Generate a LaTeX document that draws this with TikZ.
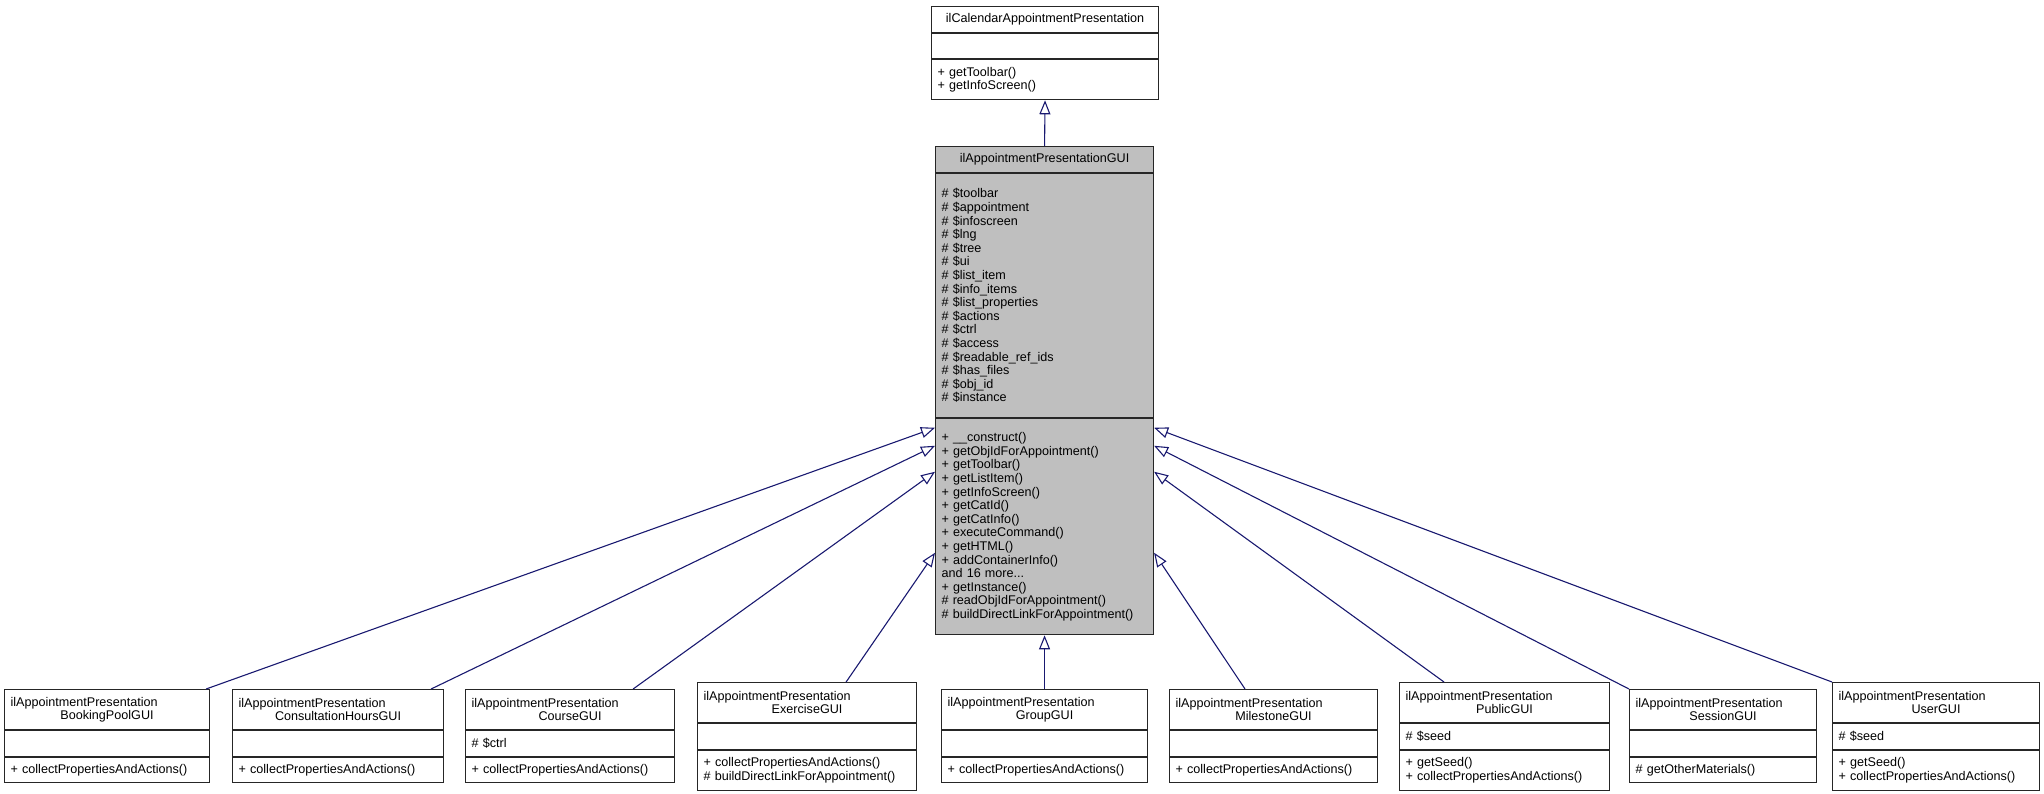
\documentclass[tikz,border=0pt]{standalone}
\usepackage{fontspec}
\setmainfont{Liberation Sans}
\usetikzlibrary{positioning,arrows.meta}
\definecolor{edgeBlue}{HTML}{191970}
\definecolor{focusGray}{HTML}{BFBFBF}
\newcommand{\clsfont}{\fontsize{12.6}{13.6}\selectfont}
\tikzset{
  clsPart/.style={rectangle,draw=black!85,fill=white,line width=1.1pt,inner xsep=6pt,inner ysep=0pt,
    font=\clsfont,align=left,minimum height=#1},
  clsHead/.style={clsPart=#1,align=center},
  inherit/.style={-{Triangle[open,length=14pt,width=11pt]},draw=edgeBlue,line width=1.1pt}
}

\begin{document}
\begin{tikzpicture}[x=1pt,y=-1pt]
    \useasboundingbox (0,0) rectangle (2044,793);

    % base class
    \node[clsHead=26pt, text width=215pt, anchor=north west] (cal) at (931,6) {ilCalendarAppointmentPresentation};
    \node[clsPart=25pt, text width=215pt, below=0pt of cal] (cala) {};
    \node[clsPart=40pt, text width=215pt, below=0pt of cala] (calm) {+ getToolbar()\\+ getInfoScreen()};

    % focus class
    \node[clsHead=26pt, text width=206pt, anchor=north west, fill=focusGray] (gui) at (935,146) {ilAppointmentPresentationGUI};
    \node[clsPart=244pt, text width=206pt, below=0pt of gui, fill=focusGray] (guia) {\# \$toolbar\\\# \$appointment\\\# \$infoscreen\\\# \$lng\\\# \$tree\\\# \$ui\\\# \$list\_item\\\# \$info\_items\\\# \$list\_properties\\\# \$actions\\\# \$ctrl\\\# \$access\\\# \$readable\_ref\_ids\\\# \$has\_files\\\# \$obj\_id\\\# \$instance};
    \node[clsPart=216pt, text width=206pt, below=0pt of guia, fill=focusGray] (guim) {+ \_\_construct()\\+ getObjIdForAppointment()\\+ getToolbar()\\+ getListItem()\\+ getInfoScreen()\\+ getCatId()\\+ getCatInfo()\\+ executeCommand()\\+ getHTML()\\+ addContainerInfo()\\and 16 more...\\+ getInstance()\\\# readObjIdForAppointment()\\\# buildDirectLinkForAppointment()};

    % derived classes
    \node[clsHead=40pt, text width=193pt, anchor=north west] (bp) at (4,689) {\makebox[\linewidth][l]{ilAppointmentPresentation}\\BookingPoolGUI};
    \node[clsPart=25.5pt, text width=193pt, below=0pt of bp] (bpa) {};
    \node[clsPart=25.5pt, text width=193pt, below=0pt of bpa] (bpm) {+ collectPropertiesAndActions()};

    \node[clsHead=40pt, text width=199pt, anchor=north west] (ch) at (232,689) {\makebox[\linewidth][l]{ilAppointmentPresentation}\\ConsultationHoursGUI};
    \node[clsPart=25.5pt, text width=199pt, below=0pt of ch] (cha) {};
    \node[clsPart=25.5pt, text width=199pt, below=0pt of cha] (chm) {+ collectPropertiesAndActions()};

    \node[clsHead=40pt, text width=197pt, anchor=north west] (crs) at (465,689) {\makebox[\linewidth][l]{ilAppointmentPresentation}\\CourseGUI};
    \node[clsPart=25.5pt, text width=197pt, below=0pt of crs] (crsa) {\# \$ctrl};
    \node[clsPart=25.5pt, text width=197pt, below=0pt of crsa] (crsm) {+ collectPropertiesAndActions()};

    \node[clsHead=40pt, text width=207pt, anchor=north west] (exc) at (697,682) {\makebox[\linewidth][l]{ilAppointmentPresentation}\\ExerciseGUI};
    \node[clsPart=25.5pt, text width=207pt, below=0pt of exc] (exca) {};
    \node[clsPart=40pt, text width=207pt, below=0pt of exca] (excm) {+ collectPropertiesAndActions()\\\# buildDirectLinkForAppointment()};

    \node[clsHead=40pt, text width=194pt, anchor=north west] (grp) at (941,689) {\makebox[\linewidth][l]{ilAppointmentPresentation}\\GroupGUI};
    \node[clsPart=25.5pt, text width=194pt, below=0pt of grp] (grpa) {};
    \node[clsPart=25.5pt, text width=194pt, below=0pt of grpa] (grpm) {+ collectPropertiesAndActions()};

    \node[clsHead=40pt, text width=196pt, anchor=north west] (mst) at (1169,689) {\makebox[\linewidth][l]{ilAppointmentPresentation}\\MilestoneGUI};
    \node[clsPart=25.5pt, text width=196pt, below=0pt of mst] (msta) {};
    \node[clsPart=25.5pt, text width=196pt, below=0pt of msta] (mstm) {+ collectPropertiesAndActions()};

    \node[clsHead=40pt, text width=198pt, anchor=north west] (pub) at (1399,682) {\makebox[\linewidth][l]{ilAppointmentPresentation}\\PublicGUI};
    \node[clsPart=25.5pt, text width=198pt, below=0pt of pub] (puba) {\# \$seed};
    \node[clsPart=40pt, text width=198pt, below=0pt of puba] (pubm) {+ getSeed()\\+ collectPropertiesAndActions()};

    \node[clsHead=40pt, text width=175pt, anchor=north west] (ses) at (1629,689) {\makebox[\linewidth][l]{ilAppointmentPresentation}\\SessionGUI};
    \node[clsPart=25.5pt, text width=175pt, below=0pt of ses] (sesa) {};
    \node[clsPart=25.5pt, text width=175pt, below=0pt of sesa] (sesm) {\# getOtherMaterials()};

    \node[clsHead=40pt, text width=195pt, anchor=north west] (usr) at (1832,682) {\makebox[\linewidth][l]{ilAppointmentPresentation}\\UserGUI};
    \node[clsPart=25.5pt, text width=195pt, below=0pt of usr] (usra) {\# \$seed};
    \node[clsPart=40pt, text width=195pt, below=0pt of usra] (usrm) {+ getSeed()\\+ collectPropertiesAndActions()};

    % generalisation edges
    \draw[inherit] (gui.north) -- (calm.south);
    \draw[inherit] ([xshift=-4pt]bp.north east) -- ([yshift=99pt]guim.west);
    \draw[inherit] ([xshift=-13pt]ch.north east) -- ([yshift=81pt]guim.west);
    \draw[inherit] ([xshift=-42pt]crs.north east) -- ([yshift=55pt]guim.west);
    \draw[inherit] ([xshift=-71pt]exc.north east) -- ([yshift=-26pt]guim.west);
    \draw[inherit] (grp.north) -- (guim.south);
    \draw[inherit] ([xshift=76pt]mst.north west) -- ([yshift=-26pt]guim.east);
    \draw[inherit] ([xshift=45pt]pub.north west) -- ([yshift=55pt]guim.east);
    \draw[inherit] (ses.north west) -- ([yshift=81pt]guim.east);
    \draw[inherit] (usr.north west) -- ([yshift=99pt]guim.east);
\end{tikzpicture}
\end{document}
